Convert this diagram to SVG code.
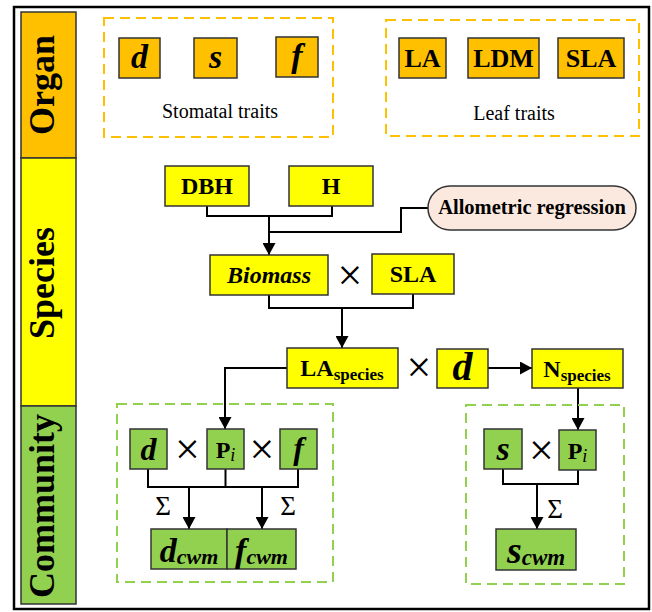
<svg xmlns="http://www.w3.org/2000/svg" width="652" height="612" viewBox="0 0 652 612">
<defs>
<style>
.bx{stroke:#333;stroke-width:1.5}
.o{fill:#FFC000}
.y{fill:#FFFF00}
.g{fill:#92D050}
.t{font-family:"Liberation Serif","Times New Roman",serif;fill:#000;text-anchor:middle}
.b{font-weight:bold}
.i{font-style:italic}
.side{font-family:"Liberation Serif","Times New Roman",serif;font-weight:bold;font-size:36px;text-anchor:middle}
.dO{fill:none;stroke:#FFC000;stroke-width:2;stroke-dasharray:10 6}
.dG{fill:none;stroke:#92D050;stroke-width:2;stroke-dasharray:10 6}
.ln{fill:none;stroke:#000;stroke-width:2}
.x{font-family:"Liberation Serif","Times New Roman",serif;font-size:44px;text-anchor:middle}
.sig{font-family:"Liberation Serif","Times New Roman",serif;font-size:27px;text-anchor:middle}
</style>
<marker id="ah" markerUnits="userSpaceOnUse" markerWidth="13" markerHeight="13" refX="12" refY="6.5" orient="auto">
<path d="M0,0 L12,6.5 L0,13 z" fill="#000"/>
</marker>
</defs>
<rect x="0" y="0" width="652" height="612" fill="#fff"/>
<rect x="14" y="7" width="635" height="602" fill="none" stroke="#000" stroke-width="2.5"/>

<g id="side-organ"><rect x="21" y="12" width="55" height="146" class="o bx"/><text class="side" transform="translate(54,85) rotate(-90)">Organ</text></g>
<g id="side-species"><rect x="21" y="158" width="55" height="248" class="y bx"/><text class="side" transform="translate(54,283) rotate(-90)">Species</text></g>
<g id="side-community"><rect x="21" y="406" width="55" height="198" class="g bx"/><text class="side" transform="translate(54,506) rotate(-90)">Community</text></g>

<g id="stomatal-group"><rect x="104" y="18" width="229" height="119" class="dO"/><text class="t" x="220" y="118" font-size="20">Stomatal traits</text></g>
<g id="leaf-group"><rect x="386" y="20" width="253" height="116" class="dO"/><text class="t" x="514" y="120" font-size="20">Leaf traits</text></g>

<g id="o-d"><rect x="119" y="38" width="41" height="40" class="o bx"/><text class="t b i" x="139.5" y="68" font-size="34">d</text></g>
<g id="o-s"><rect x="194" y="38" width="43" height="40" class="o bx"/><text class="t b i" x="215.5" y="68" font-size="34">s</text></g>
<g id="o-f"><rect x="276" y="37" width="42" height="40" class="o bx"/><text class="t b i" x="297" y="67" font-size="34">f</text></g>
<g id="o-la"><rect x="399" y="38" width="47" height="40" class="o bx"/><text class="t b" x="422.5" y="67" font-size="26">LA</text></g>
<g id="o-ldm"><rect x="468" y="38" width="71" height="40" class="o bx"/><text class="t b" x="503.5" y="67" font-size="26">LDM</text></g>
<g id="o-sla"><rect x="558" y="38" width="66" height="40" class="o bx"/><text class="t b" x="591" y="67" font-size="26">SLA</text></g>

<g id="connectors">
<polyline class="ln" points="207,206 207,216 332,216 332,206"/>
<line class="ln" x1="269" y1="216" x2="269" y2="255" marker-end="url(#ah)"/>
<polyline class="ln" points="269,232 401,232 401,208 428,208"/>
<polyline class="ln" points="269,295 269,308 413,308 413,294"/>
<line class="ln" x1="342" y1="308" x2="342" y2="348" marker-end="url(#ah)"/>
<line class="ln" x1="488" y1="368" x2="532" y2="368" marker-end="url(#ah)"/>
<polyline class="ln" points="287,368 225,368 225,429" marker-end="url(#ah)"/>
<polyline class="ln" points="148,469 148,487 298,487 298,469"/>
<line class="ln" x1="225.5" y1="469" x2="225.5" y2="487"/>
<line class="ln" x1="189" y1="487" x2="189" y2="529" marker-end="url(#ah)"/>
<line class="ln" x1="262" y1="487" x2="262" y2="529" marker-end="url(#ah)"/>
<line class="ln" x1="578" y1="388" x2="578" y2="430" marker-end="url(#ah)"/>
<polyline class="ln" points="503,469 503,484 578,484 578,470"/>
<line class="ln" x1="537" y1="484" x2="537" y2="529" marker-end="url(#ah)"/>
</g>

<g id="dbh"><rect x="165" y="166" width="84" height="40" class="y bx"/><text class="t b" x="207" y="194" font-size="24">DBH</text></g>
<g id="h"><rect x="289" y="166" width="84" height="40" class="y bx"/><text class="t b" x="331" y="194" font-size="24">H</text></g>
<g id="allometric"><rect x="428" y="186" width="208" height="44" rx="22" fill="#FBE9DF" stroke="#333" stroke-width="1.5"/><text class="t b" x="532" y="214" font-size="20.5">Allometric regression</text></g>
<g id="biomass"><rect x="210" y="255" width="118" height="40" class="y bx"/><text class="t b i" x="269" y="283" font-size="24">Biomass</text></g>
<text class="x" x="350" y="290">×</text>
<g id="sla"><rect x="372" y="254" width="82" height="40" class="y bx"/><text class="t b" x="413" y="282" font-size="24">SLA</text></g>
<g id="laspecies"><rect x="287" y="348" width="111" height="40" class="y bx"/><text class="t b" x="342" y="376" font-size="24">LA<tspan font-size="17" dy="4">species</tspan></text></g>
<text class="x" x="419" y="382">×</text>
<g id="d-species"><rect x="437" y="349" width="51" height="39" class="y bx"/><text class="t b i" x="462.5" y="380" font-size="40">d</text></g>
<g id="nspecies"><rect x="532" y="349" width="91" height="39" class="y bx"/><text class="t b" x="577" y="377" font-size="24">N<tspan font-size="17" dy="4">species</tspan></text></g>

<g id="community-left"><rect x="117" y="404" width="216" height="178" class="dG"/></g>
<g id="c-d"><rect x="130" y="429" width="37" height="40" class="g bx"/><text class="t b i" x="148.5" y="460" font-size="32">d</text></g>
<text class="x" x="187.5" y="464">×</text>
<g id="c-pi"><rect x="207" y="429" width="37" height="40" class="g bx"/><text class="t b" x="225.5" y="458" font-size="24">P<tspan class="i" font-weight="normal" font-size="18" dy="3">i</tspan></text></g>
<text class="x" x="262" y="464">×</text>
<g id="c-f"><rect x="280" y="429" width="37" height="40" class="g bx"/><text class="t b i" x="298.5" y="459" font-size="32">f</text></g>
<text class="sig" x="163" y="515">Σ</text>
<text class="sig" x="288" y="515">Σ</text>
<g id="dcwm"><rect x="151" y="529" width="76" height="40" class="g bx"/><text class="t b i" x="189" y="562" font-size="34">d<tspan font-size="22" dy="2">cwm</tspan></text></g>
<g id="fcwm"><rect x="227" y="529" width="69" height="40" class="g bx"/><text class="t b i" x="261.5" y="562" font-size="34">f<tspan font-size="22" dy="2">cwm</tspan></text></g>

<g id="community-right"><rect x="466" y="405" width="158" height="179" class="dG"/></g>
<g id="c-s"><rect x="484" y="429" width="38" height="40" class="g bx"/><text class="t b i" x="503" y="460" font-size="34">s</text></g>
<text class="x" x="541.5" y="465">×</text>
<g id="c-pi2"><rect x="559" y="430" width="37" height="40" class="g bx"/><text class="t b" x="577.5" y="459" font-size="24">P<tspan class="i" font-weight="normal" font-size="18" dy="3">i</tspan></text></g>
<text class="sig" x="555" y="518">Σ</text>
<g id="scwm"><rect x="496" y="529" width="80" height="41" class="g bx"/><text class="t b i" x="536" y="563" font-size="38">s<tspan font-size="23" dy="2">cwm</tspan></text></g>
</svg>
